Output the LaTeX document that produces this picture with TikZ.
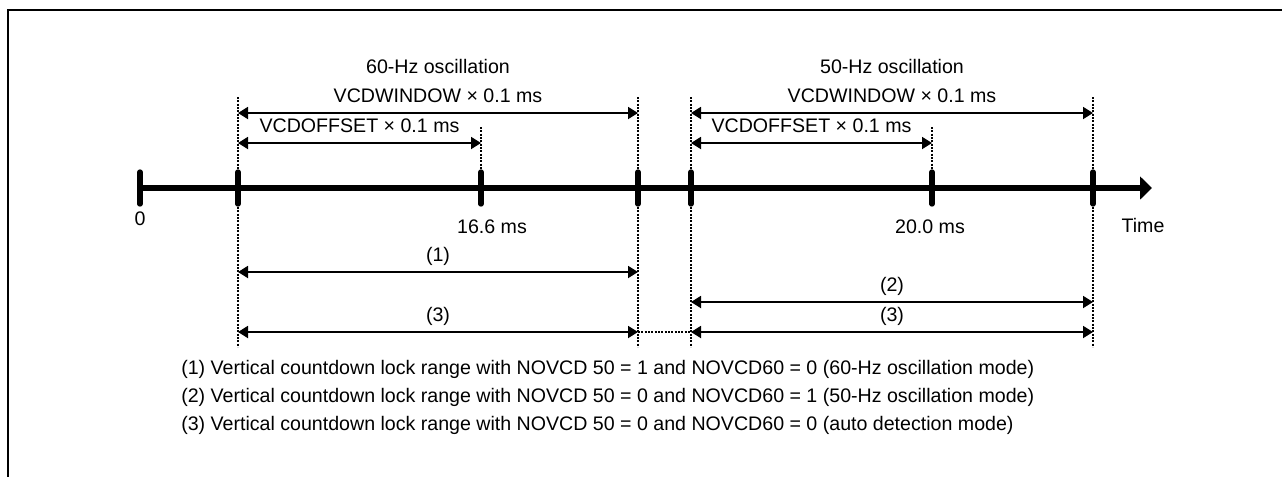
\documentclass[tikz,border=0pt]{standalone}
\usepackage{fontspec}
\setmainfont{Liberation Sans}
\usetikzlibrary{arrows.meta,positioning,calc}

\begin{document}
\begin{tikzpicture}[
      x=0.75pt, y=-0.75pt,
      node distance=11pt,
      lbl/.style={font=\fontsize{14.7pt}{17pt}\selectfont, inner sep=0pt, text=black},
      frameline/.style={line width=2pt},
      timeaxis/.style={line width=3.9pt, -{Triangle[length=9pt,width=17pt]}},
      tickmark/.style={line width=4pt, line cap=round},
      guide/.style={line width=1.8pt, dash pattern=on 1.6pt off 0.9pt},
      dimarr/.style={line width=1.4pt, {Triangle[length=7.5pt,width=9pt]}-{Triangle[length=7.5pt,width=9pt]}}
    ]
      \useasboundingbox (0,0) rectangle (1282,476);
      \draw[frameline] (8,477) -- (8,10) -- (1283,10);

      % levels
      \coordinate (toplvl) at (0,97);
      \coordinate (midlvl) at (0,127);
      \coordinate (botlvl) at (0,347);
      \coordinate (winlvl) at (0,113);
      \coordinate (offlvl) at (0,143);
      \coordinate (r1lvl) at (0,272);
      \coordinate (r2lvl) at (0,302);
      \coordinate (r3lvl) at (0,332);

      % time axis
      \coordinate (axend) at (1152,188);
      \foreach \nm/\xx in {t0/140, s60/238, m60/481, e60/638, s50/691, m50/932, e50/1093} {
        \coordinate (\nm) at (\xx,188);
      }
      \draw[timeaxis] (t0) -- (axend);
      \foreach \nm in {t0, s60, m60, e60, s50, m50, e50} {
        \draw[tickmark] ([yshift=12pt]\nm) -- ([yshift=-12pt]\nm);
      }

      \foreach \nm in {s60, e60, s50, e50} {
        \draw[guide] (\nm |- toplvl) -- (\nm |- botlvl);
      }
      \draw[guide] (m60 |- midlvl) -- (m60);
      \draw[guide] (m50 |- midlvl) -- (m50);

      \node[lbl] (zero) at (140,219) {0};
      \node[lbl] (t166) at (492,227) {16.6 ms};
      \node[lbl] (t200) at (930,227) {20.0 ms};
      \node[lbl] (timelbl) at (1143,225) {Time};

      % 60 Hz
      \draw[dimarr] (s60 |- winlvl) -- node[lbl, above=6.75pt] (win60) {VCDWINDOW × 0.1 ms} (e60 |- winlvl);
      \draw[dimarr] (s60 |- offlvl) -- node[lbl, above=6.75pt] (off60) {VCDOFFSET × 0.1 ms} (m60 |- offlvl);
      \node[lbl, above=of win60] (osc60) {60-Hz oscillation};

      % 50 Hz
      \draw[dimarr] (s50 |- winlvl) -- node[lbl, above=6.75pt] (win50) {VCDWINDOW × 0.1 ms} (e50 |- winlvl);
      \draw[dimarr] (s50 |- offlvl) -- node[lbl, above=6.75pt] (off50) {VCDOFFSET × 0.1 ms} (m50 |- offlvl);
      \node[lbl, above=of win50] (osc50) {50-Hz oscillation};

      % lock ranges
      \draw[dimarr] (s60 |- r1lvl) -- node[lbl, above=4.5pt] (rng1) {(1)} (e60 |- r1lvl);
      \draw[dimarr] (s50 |- r2lvl) -- node[lbl, above=4.5pt] (rng2) {(2)} (e50 |- r2lvl);
      \draw[dimarr] (s60 |- r3lvl) -- node[lbl, above=4.5pt] (rng3a) {(3)} (e60 |- r3lvl);
      \draw[dimarr] (s50 |- r3lvl) -- node[lbl, above=4.5pt] (rng3b) {(3)} (e50 |- r3lvl);
      \draw[guide] (e60 |- r3lvl) -- (s50 |- r3lvl);

      \node[lbl, anchor=base west] (leg1) at (181,374) {(1) Vertical countdown lock range with NOVCD 50 = 1 and NOVCD60 = 0 (60-Hz oscillation mode)};
      \node[lbl, anchor=base west] (leg2) at (181,402) {(2) Vertical countdown lock range with NOVCD 50 = 0 and NOVCD60 = 1 (50-Hz oscillation mode)};
      \node[lbl, anchor=base west] (leg3) at (181,430) {(3) Vertical countdown lock range with NOVCD 50 = 0 and NOVCD60 = 0 (auto detection mode)};
    \end{tikzpicture}
\end{document}
